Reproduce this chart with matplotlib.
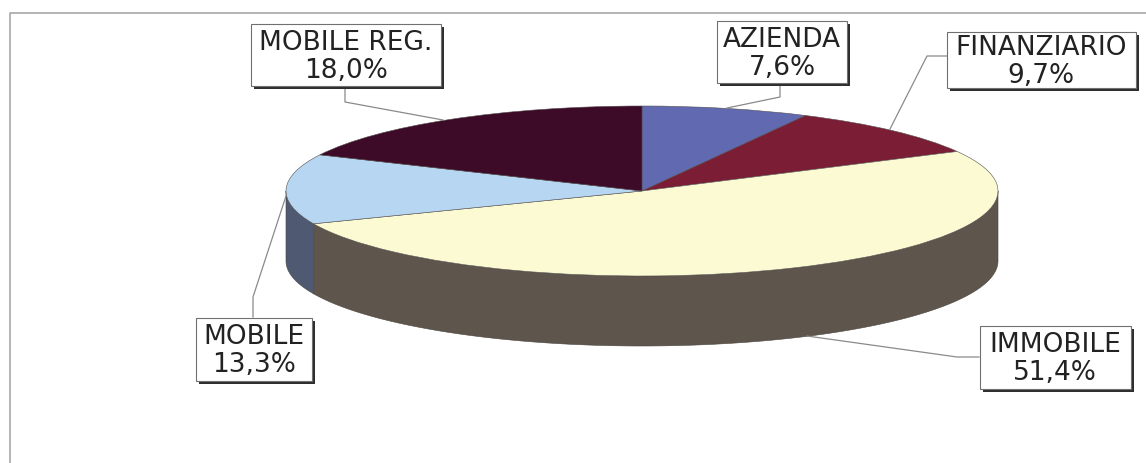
import numpy as np
import matplotlib
matplotlib.use('Agg')
import matplotlib.pyplot as plt
from matplotlib.patches import Wedge, Polygon, Rectangle
from matplotlib.transforms import Affine2D

# data
labels = ['AZIENDA', 'FINANZIARIO', 'IMMOBILE', 'MOBILE', 'MOBILE REG.']
values = [7.6, 9.7, 51.4, 13.3, 18.0]
top_colors = ['#6169b0', '#7b1d35', '#fbfad2', '#b6d6f1', '#3d0b27']
side_colors = ['#474d80', '#561528', '#5e554c', '#4f5a72', '#2a0719']

# layout (pixels, y down)
cx, cy, A, B, depth = 642, 192, 356, 85, 70
box_center = [(782, 53), (1041, 61), (1055, 358), (254, 350), (346, 56)]
box_size = [(130, 62), (189, 56), (151, 63), (116, 63), (190, 62)]
leaders = [
    [(780, 84), (780, 98), (727, 109)],
    [(947, 57), (927, 57), (890, 130)],
    [(979, 358), (957, 358), (807, 337)],
    [(253, 318), (253, 298), (286, 197)],
    [(345, 87), (345, 103), (443, 121)],
]

fig = plt.figure(figsize=(11.46, 4.64), dpi=100)
ax = fig.add_axes([0, 0, 1, 1])
ax.set_xlim(0, 1146)
ax.set_ylim(464, 0)
ax.axis('off')

# chart frame
ax.plot([10, 10, 1146], [464, 14, 14], color='#a8a8a8', lw=1.2)

# slice angles, Excel style: start at 12 o'clock, go clockwise
cum = np.concatenate([[0], np.cumsum(values)])
th_start = 90 - cum[:-1] * 3.6
th_end = 90 - cum[1:] * 3.6


def ell(t, dy=0):
    t = np.radians(t)
    return np.column_stack([cx + A * np.cos(t), cy - B * np.sin(t) + dy])


# side walls, only the front half (-180..0) shows
for i in range(len(values)):
    hi, lo = th_start[i], th_end[i]
    for shift in (0, -360):
        a = max(lo - shift, -180)
        b = min(hi - shift, 0)
        if b > a:
            t = np.linspace(a, b, 120)
            pts = np.vstack([ell(t), ell(t[::-1], depth)])
            ax.add_patch(Polygon(pts, closed=True, fc=side_colors[i],
                                 ec='#4a443e', lw=0.4))

# top faces
tr = Affine2D().scale(A, -B).translate(cx, cy) + ax.transData
for i in range(len(values)):
    ax.add_patch(Wedge((0, 0), 1, th_end[i], th_start[i], fc=top_colors[i],
                       ec='#555050', lw=0.4, transform=tr))

# leader lines
for pts in leaders:
    xs, ys = zip(*pts)
    ax.plot(xs, ys, color='#8a8a8a', lw=0.9, zorder=4)

# label boxes with drop shadow
for i, lab in enumerate(labels):
    x, y = box_center[i]
    w, h = box_size[i]
    ax.add_patch(Rectangle((x - w / 2 + 3, y - h / 2 + 3), w, h,
                           fc='#2e2e2e', ec='none', zorder=5))
    ax.add_patch(Rectangle((x - w / 2, y - h / 2), w, h,
                           fc='white', ec='#707070', lw=0.8, zorder=6))
    txt = lab + '\n' + ('%.1f%%' % values[i]).replace('.', ',')
    ax.text(x, y + 1, txt, ha='center', va='center', fontsize=19,
            family='DejaVu Sans', color='#222222', linespacing=1.12, zorder=7)

fig.savefig('out.png', dpi=100)
